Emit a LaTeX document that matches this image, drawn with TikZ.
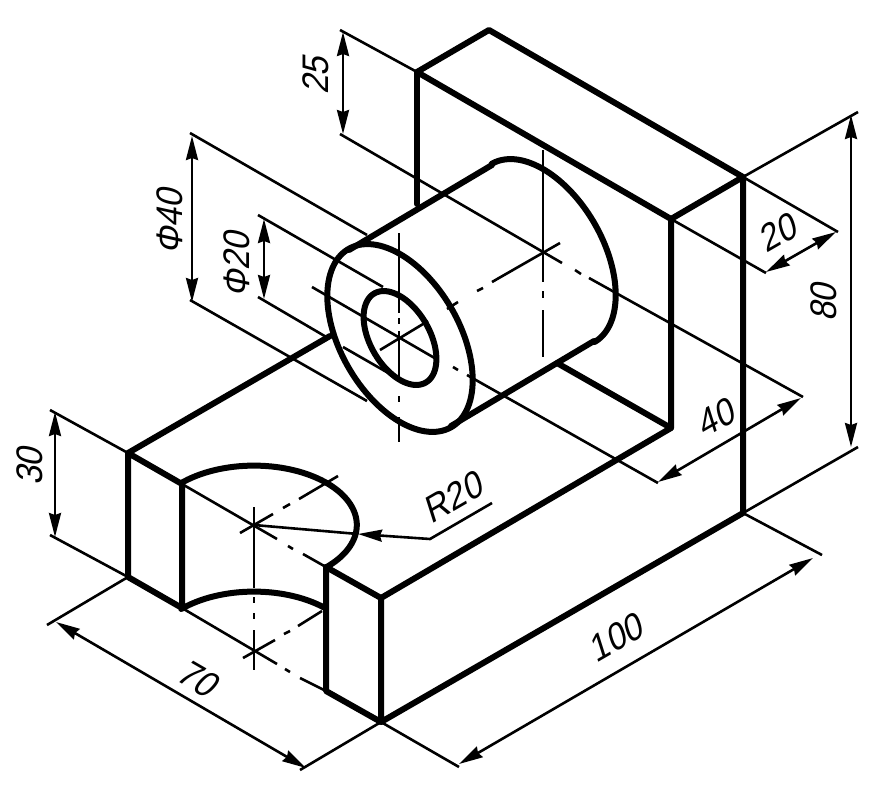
\documentclass[tikz,border=0pt]{standalone}
\usepackage{fontspec}
\setmainfont{Liberation Sans}
\newfontfamily\labfont[FakeSlant=0.22,FakeStretch=0.92]{Liberation Sans}
\usetikzlibrary{arrows.meta}
\tikzset{
  x=1pt,y=-1pt,
  thickln/.style={line width=6pt,line cap=round,line join=round,black},
  thinln/.style={line width=2.6pt,black},
  dimln/.style={line width=2.6pt,black,{Stealth[length=24pt,width=12pt,inset=2pt]}-{Stealth[length=24pt,width=12pt,inset=2pt]}},
  lab/.style={inner sep=0pt,font=\labfont\fontsize{37}{37}\selectfont,black}
}
\begin{document}
\begin{tikzpicture}
\useasboundingbox (0,0) rectangle (882,800);
\fill[white] (0,0) rectangle (882,800);
% key points
\coordinate (A) at (417,72);
\coordinate (B) at (489,30);
\coordinate (C) at (743,177);
\coordinate (D) at (671,219);
\coordinate (E) at (743,513);
\coordinate (F) at (381,722);
\coordinate (G) at (381,598);
\coordinate (H) at (671,428);
\coordinate (I) at (128,453);
\coordinate (J) at (128,577);
\coordinate (K) at (182,484);
\coordinate (L) at (182,608);
\coordinate (M) at (326,567);
\coordinate (N) at (326,691);
% thick outline
\draw[thickln] (A) -- (B) -- (C) -- (D) -- cycle;
\draw[thickln] (A) -- (417,204);
\draw[thickln] (D) -- (H) -- (G) -- (F) -- (E) -- (C);
\draw[thickln] (H) -- (557,363);
\draw[thickln] (330,336) -- (I) -- (K) -- (L) -- (J) -- (I);
\draw[thickln] (M) -- (G);
\draw[thickln] (M) -- (N) -- (F);
% U-notch arcs
\draw[thickln] plot[domain=180:0,samples=70] ({254+72.7*cos(\x)+72.7*sin(\x)},{525+42*cos(\x)-42*sin(\x)});
\draw[thickln] plot[domain=180:92,samples=50] ({254+72.7*cos(\x)+72.7*sin(\x)},{651+42*cos(\x)-42*sin(\x)});
% cylinder
\draw[thickln] plot[domain=0:360,samples=120] ({400+72.7*cos(\x)},{338+42*cos(\x)+84*sin(\x)}) -- cycle;
\draw[thickln] plot[domain=0:360,samples=90] ({400+36.4*cos(\x)},{338+21*cos(\x)+42*sin(\x)}) -- cycle;
\draw[thickln] (349,250) -- (492,165);
\draw[thickln] (451,426) -- (594,341);
\draw[thickln] plot[domain=-135:45,samples=90] ({543+72.7*cos(\x)},{253+42*cos(\x)+84*sin(\x)});
% centre lines of the cylinder
\draw[thinln] (312,287) -- (438,360) (453,367) -- (458,370) (467,375) -- (658,483);
\draw[thinln] (380,350) -- (428,321) (447,309) -- (458,302) (477,291) -- (483,288) (492,282) -- (560,243);
\draw[thinln] (340,134) -- (562,263) (575,270) -- (581,274) (589,278) -- (803,397);
\draw[thinln] (399,233) -- (399,313) (399,318) -- (399,324) (399,331) -- (399,378) (399,396) -- (399,402) (399,417) -- (399,442);
\draw[thinln] (543,150) -- (543,282) (543,291) -- (543,298) (543,310) -- (543,357);
% centre lines of the notch
\draw[thinln] (K) -- (277,539) (288,546) -- (293,549) (303,554) -- (M);
\draw[thinln] (240,533) -- (273,514) (283,508) -- (290,504) (299,499) -- (338,476);
\draw[thinln] (254,507) -- (254,588) (254,597) -- (254,603) (254,613) -- (254,619) (254,630) -- (254,670);
\draw[thinln] (L) -- (277,664) (285,669) -- (290,672) (300,678) -- (N);
\draw[thinln] (243,658) -- (275,640) (284,634) -- (290,631) (298,626) -- (322,611);
% extension lines
\draw[thinln] (340,30) -- (A);
\draw[thinln] (190,133) -- (367,235);
\draw[thinln] (190,300) -- (367,401);
\draw[thinln] (258,215) -- (383,287);
\draw[thinln] (258,297) -- (328,338) (343,347) -- (397,378);
\draw[thinln] (50,410) -- (I);
\draw[thinln] (50,535) -- (J);
\draw[thinln] (J) -- (47,625);
\draw[thinln] (F) -- (300,770);
\draw[thinln] (F) -- (459,767);
\draw[thinln] (E) -- (822,555);
\draw[thinln] (C) -- (858,112);
\draw[thinln] (E) -- (858,447);
\draw[thinln] (C) -- (838,232);
\draw[thinln] (D) -- (766,273);
% dimension lines
\draw[dimln] (343,32) -- (343,134);
\draw[dimln] (192,136) -- (192,302);
\draw[dimln] (264,219) -- (264,299);
\draw[dimln] (55,412) -- (55,537);
\draw[dimln] (56,622) -- (306,768);
\draw[dimln] (459,764) -- (813,558);
\draw[dimln] (851,115) -- (851,447);
\draw[dimln] (766,272) -- (836,232);
\draw[dimln] (658,482) -- (801,398);
% R20 leader
\coordinate (R0) at (254,525);
\coordinate (R1) at (430,539);
\coordinate (R2) at (492,503);
\draw[thinln] (R0) -- (358,534);
\draw[thinln,{Stealth[length=24pt,width=12pt,inset=2pt]}-] (358,534) -- (R1) -- (R2);
% labels
\node[lab,rotate=90] (l25) at (316,76) {25};
\node[lab,rotate=90] (lp40) at (170,222) {Φ40};
\node[lab,rotate=90] (lp20) at (237,265) {Φ20};
\node[lab,rotate=90] (l30) at (30,467) {30};
\node[lab,rotate=-30] (l70) at (197,678) {70};
\node[lab,rotate=30] (l100) at (615,638) {100};
\node[lab,rotate=90] (l80) at (824,303) {80};
\node[lab,rotate=30] (l20) at (777,233) {20};
\node[lab,rotate=30] (l40) at (715,418) {40};
\node[lab,rotate=30] (lr20) at (452,498) {R20};
\end{tikzpicture}
\end{document}
